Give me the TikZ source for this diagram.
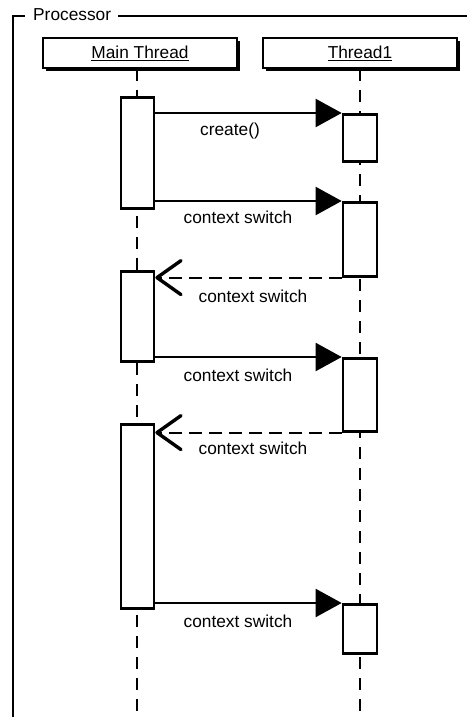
\documentclass[tikz,border=0pt]{standalone}
\usepackage{fontspec}
\setmainfont{Liberation Sans}
\usetikzlibrary{arrows.meta,calc}

\tikzset{
  frameline/.style={line width=2.4pt},
  header/.style={draw, fill=white, line width=2.6pt, minimum width=194pt,
    minimum height=30pt, inner sep=0pt, font=\fontsize{17.3}{20}\selectfont},
  shadow/.style={fill=black},
  act/.style={draw, fill=white, line width=2.6pt, inner sep=0pt, anchor=north},
  life/.style={line width=2.6pt, dash pattern=on 12pt off 9pt},
  call/.style={line width=2pt, -{Triangle[length=26pt,width=28pt]}},
  reply/.style={line width=2pt, dash pattern=on 13pt off 7pt,
    -{Straight Barb[length=24pt,width=34pt,line width=3.4pt,round]}},
  msg/.style={font=\fontsize{17.3}{20}\selectfont, inner sep=0pt}
}

\begin{document}
\begin{tikzpicture}[x=1pt,y=-1pt]
\useasboundingbox (0,0) rectangle (467,717);

% enclosing frame with its title
\node[msg, anchor=west] (proc) at (33,15) {Processor};
\draw[frameline] (13,717) -- (13,16) -- (25,16);
\draw[frameline] (proc.east) ++(7,1) -- (467,16);

% lifeline headers with drop shadows
\fill[shadow] (46,41) rectangle (240,71);
\fill[shadow] (266,41) rectangle (460,71);
\node[header] (mt) at (140,53) {\underline{Main Thread}};
\node[header] (th) at (360,53) {\underline{Thread1}};

% lifeline ends
\coordinate (mtend) at (137,717);
\coordinate (thend) at (360,717);
\draw[life] (mt.south -| mtend) -- (mtend);
\draw[life] (th.south) -- (thend);

% activation bars on Main Thread
\node[act, minimum width=33pt, minimum height=111pt] (m1) at (137.5,96) {};
\node[act, minimum width=33pt, minimum height=90pt]  (m2) at (137.5,270) {};
\node[act, minimum width=33pt, minimum height=184pt] (m3) at (137.5,423) {};

% activation bars on Thread1
\node[act, minimum width=34pt, minimum height=47pt] (t1) at (360,113) {};
\node[act, minimum width=34pt, minimum height=74pt] (t2) at (360,201) {};
\node[act, minimum width=34pt, minimum height=73pt] (t3) at (360,357) {};
\node[act, minimum width=34pt, minimum height=49pt] (t4) at (360,603) {};

% messages
\draw[call] (m1.east |- t1.north west) -- (t1.north west);
\node[msg] (l1) at (230,131) {create()};

\draw[call] (m1.east |- t2.north west) -- (t2.north west);
\node[msg] (l2) at (238,217) {context switch};

\draw[reply] (t2.south west) -- (m2.east |- t2.south west);
\node[msg] (l3) at (253,296) {context switch};

\draw[call] (m2.east |- t3.north west) -- (t3.north west);
\node[msg] (l4) at (238,375) {context switch};

\draw[reply] (t3.south west) -- (m3.east |- t3.south west);
\node[msg] (l5) at (253,448) {context switch};

\draw[call] (m3.east |- t4.north west) -- (t4.north west);
\node[msg] (l6) at (238,621) {context switch};
\end{tikzpicture}
\end{document}
